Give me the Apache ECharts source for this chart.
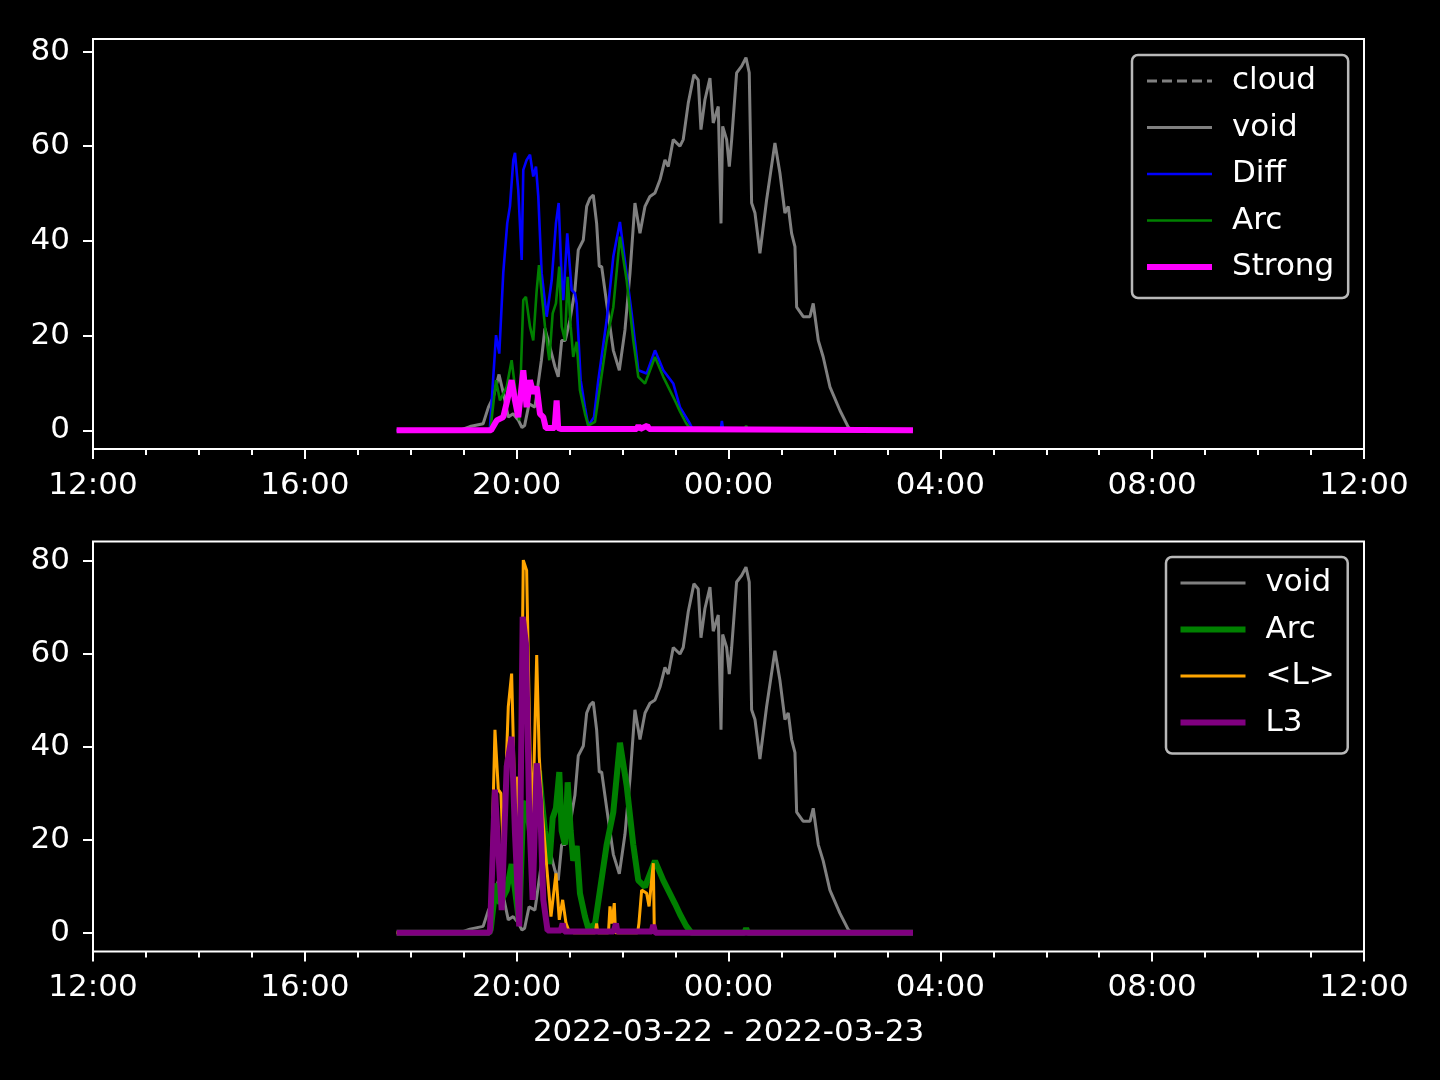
<!DOCTYPE html>
<html>
<head>
<meta charset="utf-8">
<script src="https://cdn.jsdelivr.net/npm/echarts@6/dist/echarts.min.js"></script>
<style>
html,body{margin:0;padding:0;background:#000;}
#chart{width:1440px;height:1080px;}
</style>
</head>
<body>
<div id="chart"></div>
<script>
// Time values are minutes after 12:00 on 2022-03-22.
const xTickLabels = ['12:00','16:00','20:00','00:00','04:00','08:00','12:00'];
const yTickValues = [0, 20, 40, 60, 80];
const xAxisTitle = '2022-03-22 - 2022-03-23';

// "cloud" appears only in the legend; no visible line in the chart.
const cloudData = [];

const voidData = [[344,0],[415,0],[427,0.8],[442,1.4],[448,4.9],[453.5,7],[460,11.8],[465,7.8],[470.5,2.8],[476,3.5],[482,2.1],[486,0.6],[489,1],[494,5.6],[500.7,4.9],[508,14.8],[512,21.5],[517.7,17.6],[523.4,13.4],[527.1,11.3],[531,19],[535,19],[540.4,23.3],[546,29.6],[549.8,38.1],[555.5,40.2],[559.3,47.3],[563,49],[566.8,49.7],[570.6,43.7],[573.6,34.6],[576.3,34.6],[582,26.8],[589.5,16.9],[596.3,12.7],[602.7,21.2],[608.4,33.2],[614,48],[619.7,41.6],[625.4,47.3],[631,49.4],[636.7,50.1],[642.4,52.9],[648,57.1],[651.8,55.7],[657.4,61.4],[665,60],[668.7,61.4],[674.4,69.1],[680.8,75.1],[685.7,74],[688.8,63.5],[693.3,69.8],[699,74.4],[702.7,64.9],[708.4,68.4],[711.5,43.7],[713.4,64.2],[717.9,61.4],[720.9,55.7],[723.6,61.4],[729.2,75.5],[734.9,76.9],[739.8,78.7],[743.5,75.5],[746.2,48],[750,45.9],[755.6,37.4],[763.2,48.7],[772.6,60.7],[778.3,54.3],[783.9,45.9],[787.7,47.3],[791.5,41.6],[795.3,38.8],[797.2,26],[804.7,24],[812.3,24],[816,26.8],[821.7,19],[827.3,15.5],[834.9,9.2],[846.3,4.2],[855.7,0.7],[860,0],[929,0]];

const diffData = [[344,0],[449,0],[449.8,0.7],[456.6,20.1],[460.3,16.2],[464.8,33.2],[469.3,43.7],[472.4,47.3],[476.2,57.1],[478.1,58.6],[481.8,50.8],[485.7,36],[487.5,55],[491.3,57.1],[495.1,58.2],[498.8,53.6],[501.9,55.7],[504.5,49.4],[508.3,33.2],[514,24],[519.7,31.7],[524.5,43.7],[527.6,48],[531,31.7],[532.8,27.5],[537.3,41.6],[542.3,29.6],[546.1,28.9],[548,26.8],[552.5,10.6],[557.4,4.9],[561.1,1],[567.6,2.8],[572.5,10.6],[582,23.3],[589.5,36.7],[597,44],[604.6,33],[610.3,24.7],[617.8,12.7],[627.3,12],[636.7,16.9],[646.1,12.7],[657.4,9.9],[665,4.9],[676.3,1.4],[680,0],[711,0],[712.5,2],[714,0],[929,0]];

const arcData = [[344,0],[449,0],[450.6,0.7],[456.6,10.6],[461.1,6.3],[468.7,9.2],[474.3,14.8],[478.1,9.2],[482.9,2.1],[487.5,27.5],[490.5,28.2],[495.1,21.9],[498.8,19],[502.7,29.6],[505.3,34.9],[508.3,28.9],[512.1,21.9],[517,14.8],[520.8,24.7],[524.5,26.8],[528.3,34.6],[531,21.9],[534.7,19],[537.8,32.4],[541.2,21.9],[544.1,15.5],[548,18.7],[551.7,8.5],[557.4,3.5],[561.1,1],[568.7,1.8],[574.4,9.2],[582,19],[589.5,26],[597,40.9],[604.6,31.7],[612.1,19],[617.8,11.3],[625.4,9.9],[636.7,15.5],[646.1,11.3],[659.3,6.3],[665,4],[672,1.5],[678,0],[738,0],[740,1],[742,0],[929,0]];

const strongData = [[344,0],[451,0],[457.4,2.1],[464.8,2.8],[469.3,6.3],[474.3,10.6],[478.1,6.3],[481.8,2.8],[487.5,12.7],[491.3,4.9],[495.1,10.6],[498.8,7.8],[502.7,9.2],[506.4,3.5],[510.2,2.8],[513,0.5],[523,0.5],[525.3,6.3],[527,0.5],[530,0.3],[616,0.3],[618,1],[620,0.3],[628,1],[630,0.3],[929,0]];

const lMeanData = [[344,0],[449,0],[449.8,0.6],[455.4,43.7],[459.2,30.8],[462.2,30],[464.8,17.8],[470.5,48.7],[474.3,55.8],[478.1,26.5],[481.1,33.6],[483.7,14.3],[487.5,80.2],[491.3,78],[495.1,39.4],[498.1,23.6],[502.7,59.8],[505.6,37.9],[509.5,25],[514,14.3],[518.9,3.5],[524.5,12.8],[528.3,2.8],[532.1,7.1],[535.9,2.1],[539,0.5],[545,0],[569,0],[570.6,2],[572,0],[584,0],[585.7,5.7],[588,2],[590.6,6.4],[592,0],[617,0],[618.5,2],[621.6,9.2],[627.3,8.5],[630,5.7],[634.8,15],[636,0],[929,0]];

const l3Data = [[344,0],[449,0],[449.8,0.6],[455.4,30.8],[459.2,17.8],[463,4.9],[468.7,35.8],[474.3,42.2],[478.1,21.4],[482.9,1.4],[486.8,68],[490.5,62.3],[494.3,25],[498.1,7.1],[502.7,36.5],[506.4,28.6],[510.2,7.1],[515,0.5],[530,0.5],[532.1,2],[534,0.3],[590,0.3],[592.5,2],[594,0.3],[633,0.3],[634.8,1.7],[637,0],[929,0]];

const FONT = 'DejaVu Sans';
const FS = 31;
const WHITE = '#ffffff';

function xAxisCfg(gridIndex, withName) {
  const a = {
    type: 'value', gridIndex: gridIndex, min: 0, max: 1440, interval: 240,
    position: 'bottom',
    axisLine: {show: false, onZero: false},
    axisTick: {show: true, length: 10, lineStyle: {color: WHITE, width: 2}},
    minorTick: {show: true, splitNumber: 4, length: 6, lineStyle: {color: WHITE, width: 2}},
    splitLine: {show: false},
    axisLabel: {color: WHITE, fontFamily: FONT, fontSize: FS, margin: 21,
      formatter: function (v) { return xTickLabels[Math.round(v / 240)]; }}
  };
  if (withName) {
    a.name = xAxisTitle;
    a.nameLocation = 'middle';
    a.nameGap = 66;
    a.nameTextStyle = {color: WHITE, fontFamily: FONT, fontSize: FS};
  }
  return a;
}
function yAxisCfg(gridIndex, mn, mx) {
  return {
    type: 'value', gridIndex: gridIndex, min: mn, max: mx,
    position: 'left',
    axisLine: {show: false, onZero: false},
    axisTick: {show: true, length: 10, customValues: yTickValues, lineStyle: {color: WHITE, width: 2}},
    splitLine: {show: false},
    axisLabel: {color: WHITE, fontFamily: FONT, fontSize: FS, margin: 23, customValues: yTickValues}
  };
}
function line(name, data, color, width, axis, dashed) {
  return {
    type: 'line', name: name, data: data, xAxisIndex: axis, yAxisIndex: axis,
    showSymbol: false, symbol: 'none', animation: false, silent: true,
    lineStyle: {color: color, width: width, type: dashed ? [10, 5] : 'solid'},
    itemStyle: {color: color},
    emphasis: {disabled: true}
  };
}
function legendItem(name, color, width, dashed) {
  return {
    name: name,
    lineStyle: {color: color, width: width, type: dashed ? [10, 5] : 'solid'},
    itemStyle: {color: 'rgba(0,0,0,0)', opacity: 0, borderWidth: 0}
  };
}
const legendCommon = {
  orient: 'vertical', itemWidth: 65, itemHeight: 20, itemGap: 12.5,
  selectedMode: false, backgroundColor: '#000', borderColor: '#b8b8b8',
  borderWidth: 2.5, borderRadius: 6,
  textStyle: {color: WHITE, fontFamily: FONT, fontSize: FS, lineHeight: 34, padding: [0, 0, 0, 15]}
};

const chart = echarts.init(document.getElementById('chart'));
chart.setOption({
  backgroundColor: '#000',
  animation: false,
  grid: [
    {left: 93, top: 39, width: 1271, height: 410, show: true, borderColor: WHITE, borderWidth: 2, backgroundColor: 'transparent'},
    {left: 93, top: 541.5, width: 1271, height: 410, show: true, borderColor: WHITE, borderWidth: 2, backgroundColor: 'transparent'}
  ],
  xAxis: [xAxisCfg(0, false), xAxisCfg(1, true)],
  yAxis: [yAxisCfg(0, -3.935, 82.635), yAxisCfg(1, -4.01, 84.21)],
  legend: [
    Object.assign({}, legendCommon, {left: 1132, top: 55, padding: [9, 14, 14, 12],
      data: [legendItem('cloud', '#808080', 3, true), legendItem('void', '#808080', 3),
             legendItem('Diff', '#0000ff', 2.4), legendItem('Arc', '#008000', 2.4),
             legendItem('Strong', '#ff00ff', 6)]}),
    Object.assign({}, legendCommon, {left: 1166, top: 557, padding: [9, 13, 14, 11.5],
      data: [legendItem('void', '#808080', 3), legendItem('Arc', '#008000', 6),
             legendItem('<L>', '#ffa500', 3), legendItem('L3', '#800080', 6)]})
  ],
  series: [
    line('cloud', cloudData, '#808080', 3, 0, true),
    line('void', voidData, '#808080', 3, 0),
    line('Diff', diffData, '#0000ff', 2.6, 0),
    line('Arc', arcData, '#008000', 2.6, 0),
    line('Strong', strongData, '#ff00ff', 6, 0),
    line('void', voidData, '#808080', 3, 1),
    line('Arc', arcData, '#008000', 6, 1),
    line('<L>', lMeanData, '#ffa500', 3, 1),
    line('L3', l3Data, '#800080', 6, 1)
  ]
});
</script>
</body>
</html>
